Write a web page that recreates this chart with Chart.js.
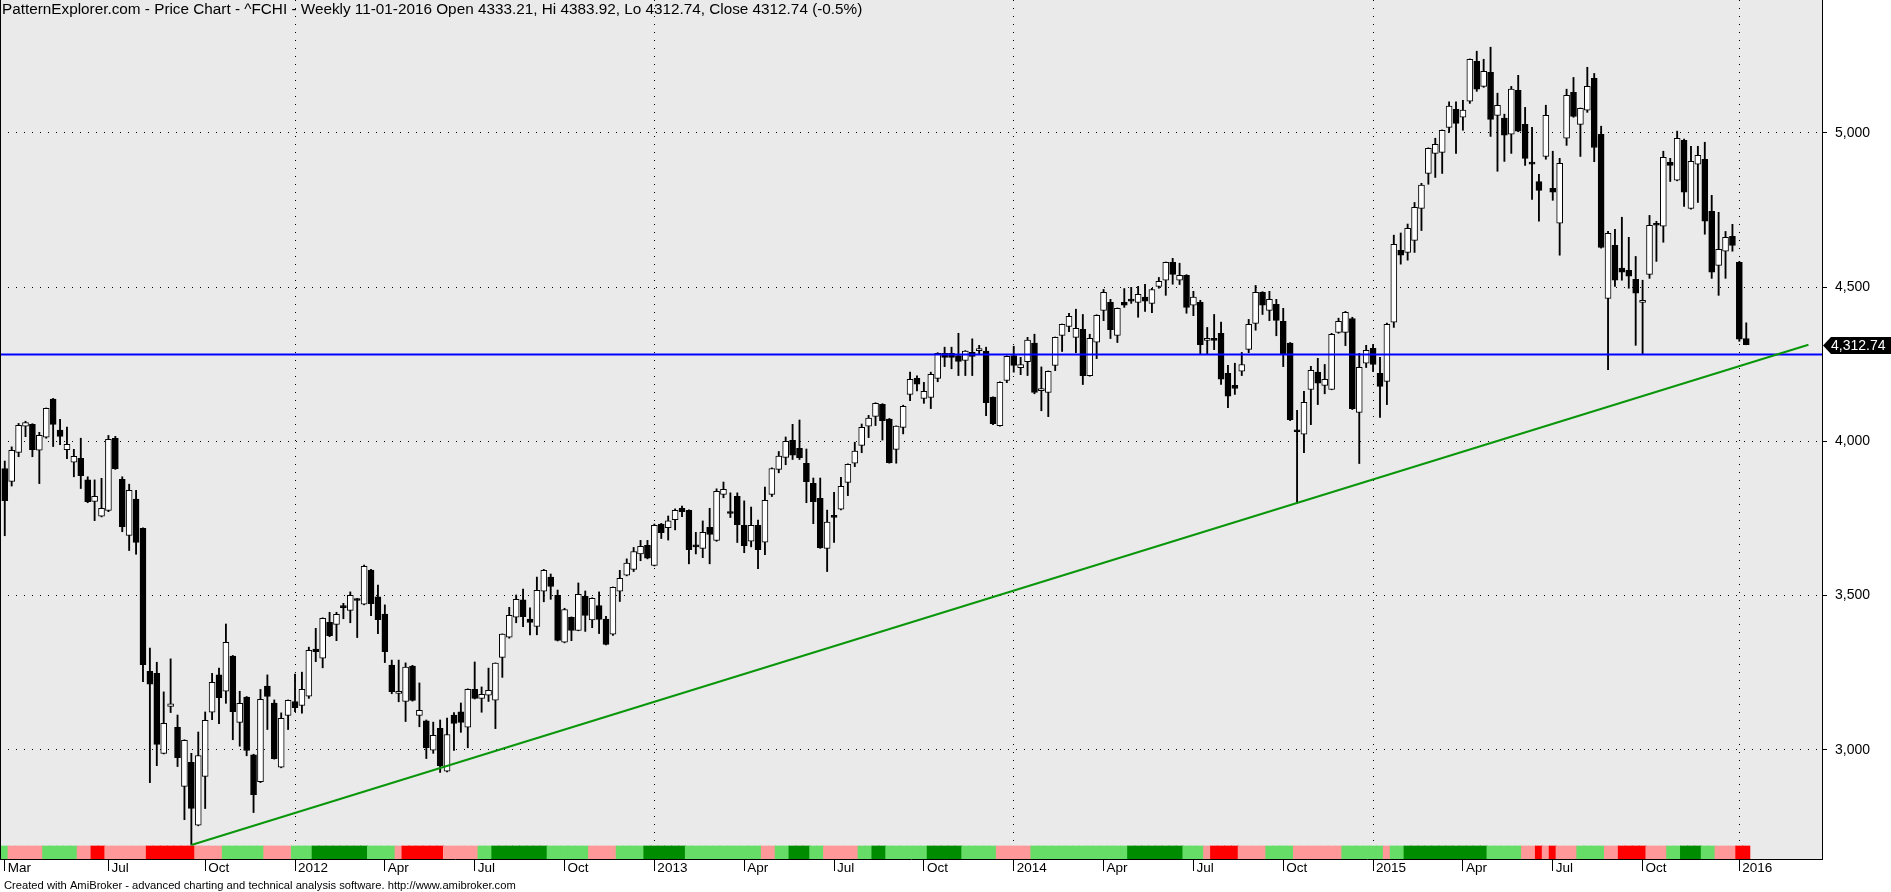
<!DOCTYPE html>
<html>
<head>
<meta charset="utf-8">
<script src="https://cdn.jsdelivr.net/npm/chart.js@4/dist/chart.umd.min.js"></script>
<style>
  html, body { margin: 0; padding: 0; background: #fff; }
  canvas { display: block; }
</style>
</head>
<body>
<canvas id="price" width="1891" height="892"></canvas>
<script>
// ^FCHI weekly bars, first bar = week ending 18-03-2011, last = 11-01-2016
var open = [
  3912,3870,3964,4049,4055,3971,4013,4137,4036,3973,
  3932,3945,3875,3805,3757,3776,4010,3877,3695,3813,
  3718,3255,3248,2989,3141,3073,2882,2960,2756,2914,
  3122,3243,3190,3304,3089,3171,2984,2897,3207,3152,
  2944,3112,3157,3144,3174,3327,3297,3413,3407,3466,
  3452,3489,3472,3583,3496,3440,3275,3183,3157,3272,
  3112,3094,2999,3070,2931,3113,3123,3074,3196,3167,
  3177,3161,3300,3365,3430,3486,3424,3400,3514,3560,
  3501,3349,3430,3387,3498,3421,3468,3424,3375,3514,
  3566,3585,3635,3663,3598,3732,3720,3746,3783,3776,
  3661,3653,3721,3679,3828,3771,3822,3728,3676,3728,
  3673,3828,3909,3948,4003,3977,3929,3864,3815,3653,
  3760,3780,3867,3929,3987,4049,4081,4120,4072,3974,
  4045,4152,4204,4139,4142,4204,4285,4285,4278,4262,
  4288,4294,4292,4143,4051,4197,4278,4239,4258,4318,
  4164,4158,4246,4343,4372,4337,4363,4213,4321,4424,
  4450,4343,4450,4457,4450,4467,4447,4502,4522,4580,
  4522,4538,4441,4450,4327,4334,4350,4220,4181,4227,
  4298,4382,4483,4424,4444,4389,4318,4032,4023,4168,
  4224,4181,4168,4353,4353,4398,4094,4253,4301,4220,
  4194,4386,4619,4612,4651,4755,4868,4933,4936,5017,
  5076,5050,5102,5231,5150,5196,5056,5047,4995,5137,
  5027,4904,4842,4923,4820,4707,4982,5131,5027,5073,
  5176,4995,4463,4635,4561,4554,4525,4450,4541,4703,
  4697,4904,4846,4975,4755,4898,4914,4745,4570,4616,
  4664,4580,4333.21
];
var high = [
  3936,3982,4058,4065,4057,4029,4108,4139,4071,4046,
  3974,4010,3885,3875,3880,4019,4016,3885,3861,3841,
  3720,3330,3284,3188,3295,3113,3033,2989,3058,3123,
  3248,3265,3408,3306,3190,3173,2986,3196,3243,3162,
  3120,3162,3246,3252,3333,3394,3428,3446,3446,3475,
  3512,3491,3599,3585,3534,3470,3291,3291,3282,3274,
  3217,3097,3090,3097,3103,3121,3152,3198,3285,3204,
  3265,3282,3376,3462,3502,3521,3460,3560,3585,3570,
  3518,3459,3431,3541,3515,3493,3512,3433,3528,3582,
  3619,3656,3679,3679,3732,3734,3758,3781,3790,3778,
  3705,3742,3783,3846,3868,3833,3833,3807,3787,3745,
  3852,3914,3967,4014,4055,4069,3975,3881,3881,3777,
  3835,3883,3927,3997,4056,4084,4125,4122,4074,4050,
  4117,4224,4212,4191,4224,4287,4305,4305,4350,4294,
  4332,4311,4305,4144,4193,4277,4308,4272,4337,4347,
  4241,4228,4338,4380,4415,4428,4411,4347,4410,4492,
  4460,4432,4495,4499,4502,4509,4496,4531,4581,4593,
  4577,4540,4486,4457,4369,4411,4386,4246,4253,4288,
  4395,4505,4485,4486,4460,4431,4320,4100,4162,4243,
  4269,4249,4350,4399,4421,4402,4285,4311,4314,4272,
  4383,4668,4675,4704,4774,4836,4951,4982,5009,5100,
  5100,5105,5239,5264,5238,5277,5128,5060,5150,5186,
  5082,5017,4865,5089,4940,4917,5141,5179,5080,5212,
  5192,5021,4680,4687,4726,4661,4599,4522,4732,4713,
  4940,4917,5005,4979,4956,4956,4969,4797,4742,4680,
  4703,4583,4383.92
];
var low = [
  3694,3855,3950,4015,3950,3863,4010,3983,3989,3944,
  3885,3847,3801,3743,3755,3772,3909,3707,3646,3634,
  3221,2894,2949,2987,3121,2946,2774,2692,2754,2810,
  3098,3085,3151,3033,3012,2981,2797,2894,3066,2970,
  2942,3066,3124,3119,3167,3286,3266,3367,3354,3425,
  3412,3364,3470,3435,3377,3283,3182,3156,3092,3158,
  3075,2972,2989,2927,2929,2998,3057,3007,3165,3122,
  3157,3069,3235,3362,3412,3399,3373,3373,3480,3488,
  3353,3347,3354,3386,3384,3396,3377,3340,3371,3481,
  3564,3578,3613,3619,3596,3685,3680,3713,3756,3603,
  3635,3623,3603,3676,3817,3753,3672,3639,3658,3587,
  3633,3821,3898,3924,3941,3941,3801,3733,3653,3578,
  3672,3778,3824,3918,3963,4012,4051,4004,3929,3929,
  4024,4132,4163,4123,4106,4193,4242,4235,4213,4213,
  4213,4281,4083,4054,4049,4190,4224,4216,4213,4154,
  4099,4080,4229,4291,4355,4287,4184,4211,4268,4391,
  4333,4320,4434,4447,4402,4421,4417,4496,4473,4509,
  4508,4415,4407,4281,4281,4297,4184,4109,4152,4213,
  4287,4360,4411,4391,4342,4242,4067,3799,3963,4054,
  4119,4154,4167,4350,4310,4103,3928,4239,4226,4077,
  4119,4369,4574,4587,4612,4683,4833,4855,4868,5001,
  4933,5008,5095,5134,5147,4988,4875,4907,4933,5003,
  4894,4784,4713,4914,4781,4603,4959,5050,4923,5066,
  4906,4626,4232,4502,4522,4496,4311,4282,4528,4583,
  4645,4842,4844,4761,4752,4774,4671,4528,4473,4528,
  4616,4324,4312.74
];
var close = [
  3808,3971,4052,4061,3973,4019,4107,4055,4016,3990,
  3951,3889,3804,3822,3783,4006,3911,3723,3841,3672,
  3276,3213,3018,3086,3149,2975,3031,2810,2982,3096,
  3219,3169,3349,3124,3151,2998,2855,3164,3173,2972,
  3102,3161,3137,3196,3323,3318,3426,3370,3439,3461,
  3501,3484,3595,3474,3422,3318,3189,3190,3268,3160,
  3128,3007,3047,2949,3050,3086,3089,3196,3167,3180,
  3193,3281,3375,3436,3488,3432,3413,3517,3582,3530,
  3355,3455,3387,3504,3436,3491,3423,3342,3527,3556,
  3605,3643,3660,3621,3728,3704,3742,3776,3772,3649,
  3658,3705,3698,3838,3844,3766,3730,3662,3728,3649,
  3809,3912,3952,4000,3955,3947,3869,3804,3655,3738,
  3753,3854,3925,3968,4045,4075,4123,4067,3931,4049,
  4113,4201,4185,4162,4217,4285,4272,4272,4259,4292,
  4275,4295,4125,4057,4191,4275,4246,4249,4328,4158,
  4165,4227,4337,4379,4405,4366,4213,4334,4408,4483,
  4362,4431,4441,4454,4476,4454,4492,4518,4580,4541,
  4538,4434,4467,4313,4334,4327,4201,4146,4171,4249,
  4379,4483,4441,4460,4392,4282,4070,4031,4126,4230,
  4188,4201,4347,4389,4418,4106,4240,4295,4249,4178,
  4379,4638,4603,4690,4758,4830,4949,4962,5008,5086,
  5030,5073,5238,5141,5199,5043,5089,4992,5141,5005,
  4917,4898,4813,5056,4807,4901,5121,5053,5079,5150,
  4952,4628,4674,4522,4548,4535,4480,4457,4700,4700,
  4920,4894,4982,4807,4907,4927,4713,4548,4622,4661,
  4635,4331,4312.74
];

// ribbon state per week: g light green, d dark green, p pink, r red
var ribbon = ('g ppppp ggggg pp rr pppppp rrrrrrr pppp gggggg pppp ggg dddddddd gggg p rrrrrr ppppp gg ' +
  'dddddddd gggggg pppp gggg dddddd ggggggggggg pp gg ddd gg ppppp gg dd gggggg ddddd ggggg ppppp ' +
  'gggggggggggggg dddddddd ggg p rrrr pppp gggg ppppppp gggggg p gg dddddddddddd ggggg pp r p r ppp ' +
  'gggg pp rrrr ppp gg ddd gg ppp rr').replace(/ /g, '').split('');

// x axis labels (bar index where the month starts)
var tickIdx = [0, 15, 29, 42, 55, 68, 81, 94, 107, 120, 133, 146, 159, 172, 185, 198, 211, 224, 237, 251];
var tickText = ['Mar', 'Jul', 'Oct', '2012', 'Apr', 'Jul', 'Oct', '2013', 'Apr', 'Jul', 'Oct',
  '2014', 'Apr', 'Jul', 'Oct', '2015', 'Apr', 'Jul', 'Oct', '2016'];
var priceTicks = [3000, 3500, 4000, 4500, 5000];

var supportLevel = 4281;
var trendLine = [{ x: 27, y: 2692 }, { x: 261, y: 4313 }];
var lastClose = 4312.74;

var titleText = 'PatternExplorer.com - Price Chart - ^FCHI - Weekly 11-01-2016 Open 4333.21, Hi 4383.92, Lo 4312.74, Close 4312.74 (-0.5%)';
var footerText = 'Created with AmiBroker - advanced charting and technical analysis software. http://www.amibroker.com';

var xMin = -0.69, xMax = 262.96;
var yMin = 2646.5, yMax = 5430;

var ribbonColors = { g: '#66dd66', d: '#008c00', p: '#ff9999', r: '#ff0000' };
var FONT = '"Liberation Sans", Arial, sans-serif';
Chart.defaults.font.family = FONT;

var wicks = [], bodies = [], bodyFill = [], ribbonBars = [], ribbonFill = [];
for (var i = 0; i < close.length; i++) {
  wicks.push({ x: i, y: [low[i], high[i]] });
  bodies.push({ x: i, y: [open[i], close[i]] });
  bodyFill.push(close[i] >= open[i] ? '#ffffff' : '#000000');
  ribbonBars.push({ x: i, y: [0, 1] });
  ribbonFill.push(ribbonColors[ribbon[i]]);
}

function isYear(v) {
  var k = tickIdx.indexOf(v);
  return k >= 0 && /^\d{4}$/.test(tickText[k]);
}

var paneBackground = {
  id: 'paneBackground',
  beforeDraw: function (chart) {
    var ctx = chart.ctx, a = chart.chartArea;
    ctx.save();
    ctx.fillStyle = '#ffffff';
    ctx.fillRect(0, 0, chart.width, chart.height);
    ctx.fillStyle = '#eaeaea';
    ctx.fillRect(a.left, a.top, a.right - a.left, a.bottom - a.top);
    ctx.restore();
  }
};

var captions = {
  id: 'captions',
  afterDraw: function (chart) {
    var ctx = chart.ctx, a = chart.chartArea, ys = chart.scales.y;
    ctx.save();
    ctx.fillStyle = '#000';
    ctx.fillRect(a.left, a.top, 1, a.bottom - a.top);

    ctx.font = '15.3px ' + FONT;
    ctx.textBaseline = 'top';
    ctx.fillText(titleText, 2, 2);

    ctx.font = '11.2px ' + FONT;
    ctx.textBaseline = 'alphabetic';
    ctx.fillText(footerText, 4, 889);

    // last price tag on the axis
    var py = Math.round(ys.getPixelForValue(lastClose)) + 0.5;
    ctx.beginPath();
    ctx.moveTo(a.right + 1, py);
    ctx.lineTo(a.right + 9, py - 8.5);
    ctx.lineTo(chart.width, py - 8.5);
    ctx.lineTo(chart.width, py + 8.5);
    ctx.lineTo(a.right + 9, py + 8.5);
    ctx.closePath();
    ctx.fill();
    ctx.fillStyle = '#fff';
    ctx.font = '14px ' + FONT;
    ctx.textBaseline = 'middle';
    ctx.fillText(lastClose.toLocaleString('en-US', { minimumFractionDigits: 2 }), a.right + 9, py + 1);
    ctx.restore();
  }
};

new Chart(document.getElementById('price'), {
  type: 'bar',
  data: {
    datasets: [
      {
        type: 'line', label: 'trend', data: trendLine, order: 1,
        borderColor: '#0a960a', borderWidth: 2, pointRadius: 0, tension: 0, yAxisID: 'y'
      },
      {
        type: 'line', label: 'support', order: 2,
        data: [{ x: xMin, y: supportLevel }, { x: xMax, y: supportLevel }],
        borderColor: '#0000ff', borderWidth: 2, pointRadius: 0, tension: 0, yAxisID: 'y'
      },
      {
        label: 'body', data: bodies, order: 3, grouped: false, yAxisID: 'y',
        backgroundColor: bodyFill, borderColor: '#000', borderWidth: 1,
        borderSkipped: false, barThickness: 6, minBarLength: 2
      },
      {
        label: 'wick', data: wicks, order: 4, grouped: false, yAxisID: 'y',
        backgroundColor: '#000', barThickness: 1.2
      },
      {
        label: 'ribbon', data: ribbonBars, order: 5, grouped: false, yAxisID: 'yr',
        backgroundColor: ribbonFill, barThickness: 7.4
      }
    ]
  },
  options: {
    responsive: false,
    animation: false,
    events: [],
    devicePixelRatio: 1,
    layout: { padding: 0 },
    plugins: { legend: { display: false }, tooltip: { enabled: false } },
    scales: {
      x: {
        type: 'linear', min: xMin, max: xMax, offset: false,
        afterBuildTicks: function (s) { s.ticks = tickIdx.map(function (v) { return { value: v }; }); },
        afterFit: function (s) { s.height = 33; s.paddingLeft = 0; s.paddingRight = 0; },
        ticks: {
          autoSkip: false, maxRotation: 0, align: 'start', labelOffset: 3, padding: -11,
          color: '#000', font: { size: 13.5 },
          callback: function (v) { return tickText[tickIdx.indexOf(v)]; }
        },
        grid: {
          offset: false, drawTicks: true, tickLength: 12, tickColor: '#000', lineWidth: 1,
          borderDash: [1, 7],
          color: function (c) { return c.tick && isYear(c.tick.value) ? '#000' : 'rgba(0,0,0,0)'; }
        },
        border: { display: true, color: '#000', width: 1, dash: [1, 7] }
      },
      y: {
        position: 'right', min: yMin, max: yMax,
        afterBuildTicks: function (s) { s.ticks = priceTicks.map(function (v) { return { value: v }; }); },
        afterFit: function (s) { s.width = 69; s.paddingTop = 0; s.paddingBottom = 0; },
        ticks: {
          color: '#000', font: { size: 14 }, padding: 8,
          callback: function (v) { return v.toLocaleString('en-US'); }
        },
        grid: { color: '#000', lineWidth: 1, tickLength: 5, tickColor: '#000', borderDash: [1, 7] },
        border: { display: true, color: '#000', width: 1, dash: [1, 7] }
      },
      yr: { display: false, min: 0, max: 66 }
    }
  },
  plugins: [paneBackground, captions]
});
</script>
</body>
</html>
